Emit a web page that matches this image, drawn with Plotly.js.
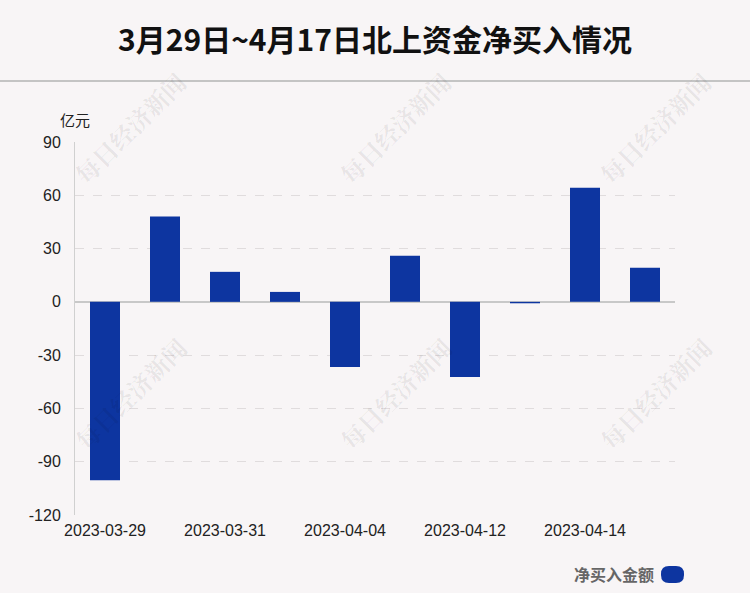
<!DOCTYPE html>
<html>
<head>
<meta charset="utf-8">
<script src="https://cdn.plot.ly/plotly-3.0.1.min.js"></script>
<style>html,body{margin:0;padding:0;background:#f8f5f6;}</style>
</head>
<body>
<div id="chart" style="width:750px;height:593px;"></div>
<script>
const titleText = "3月29日~4月17日北上资金净买入情况";
const categories = ["2023-03-29","2023-03-30","2023-03-31","2023-04-03","2023-04-04","2023-04-06","2023-04-12","2023-04-13","2023-04-14","2023-04-17"];
const netBuy = [-100.4, 48.0, 16.9, 5.6, -36.7, 25.9, -42.3, -0.8, 64.3, 19.2];
const tickLabels = ["2023-03-29","2023-03-31","2023-04-04","2023-04-12","2023-04-14"];
const yTicks = [90, 60, 30, 0, -30, -60, -90, -120];
const seriesName = "净买入金额";
const unitLabel = "亿元";
const watermark = "每日经济新闻";

const CJK = '"Noto Sans CJK SC", "Liberation Sans", Arial, sans-serif';
const LAT = '"Liberation Sans", Arial, sans-serif';

const trace = {
  type: 'bar',
  x: categories,
  y: netBuy,
  name: seriesName,
  width: 0.5,
  marker: {color: '#0d35a0'},
  hoverinfo: 'x+y'
};

const plotL = 75, plotR = 675, plotT = 142, plotB = 515;
const px = x => (x - plotL) / (plotR - plotL);
const py = y => (plotB - y) / (plotB - plotT);
const wmPos = [[130,128],[395,128],[655,128],[130,393],[395,393],[655,393]];
const annotations = wmPos.map(p => ({
  xref: 'paper', yref: 'paper', x: px(p[0]), y: py(p[1]),
  text: '<b>' + watermark + '</b>', showarrow: false, textangle: -45,
  font: {family: '"Noto Serif CJK SC", "Noto Sans CJK SC", serif', size: 24, color: 'rgba(0,0,0,0.075)'},
  xanchor: 'center', yanchor: 'middle'
}));
annotations.push({
  xref: 'paper', yref: 'paper', x: px(75), y: py(120),
  text: unitLabel, showarrow: false, xanchor: 'center', yanchor: 'middle',
  font: {family: CJK, size: 15, color: '#222'}
});
annotations.push({
  xref: 'paper', yref: 'paper', x: px(656), y: py(574),
  text: '<b>' + seriesName + '</b>', showarrow: false, xanchor: 'right', yanchor: 'middle',
  font: {family: CJK, size: 16, color: '#666'}
});

const lx0 = px(661), lx1 = px(684), ly0 = py(583), ly1 = py(566);
const rx = px(661+8) - lx0, ry = py(566) - py(574);
const swatchPath = `M ${lx0+rx},${ly1} L ${lx1-rx},${ly1} Q ${lx1},${ly1} ${lx1},${ly1-ry} L ${lx1},${ly0+ry} Q ${lx1},${ly0} ${lx1-rx},${ly0} L ${lx0+rx},${ly0} Q ${lx0},${ly0} ${lx0},${ly0+ry} L ${lx0},${ly1-ry} Q ${lx0},${ly1} ${lx0+rx},${ly1} Z`;

const shapes = [
  {type: 'line', xref: 'paper', yref: 'paper', x0: px(0), x1: px(750), y0: py(81), y1: py(81),
   line: {color: '#c4c4c4', width: 2}},
  {type: 'path', xref: 'paper', yref: 'paper', path: swatchPath,
   fillcolor: '#0d35a0', line: {width: 0}}
];

const layout = {
  width: 750, height: 593,
  paper_bgcolor: '#f8f5f6', plot_bgcolor: '#f8f5f6',
  margin: {l: plotL, r: 750 - plotR, t: plotT, b: 593 - plotB, pad: 0},
  showlegend: false,
  title: {
    text: '<b>' + titleText + '</b>',
    x: 0.5, xanchor: 'center', y: 1 - 40/593, yanchor: 'middle',
    font: {family: CJK, size: 30, color: '#111'}
  },
  xaxis: {
    type: 'category',
    categoryorder: 'array', categoryarray: categories,
    tickmode: 'array', tickvals: tickLabels, ticktext: tickLabels,
    showgrid: false, zeroline: false, showline: false,
    ticks: '', tickfont: {family: LAT, size: 16, color: '#222'},
    ticklabelstandoff: 4,
    range: [-0.5, categories.length - 0.5]
  },
  yaxis: {
    range: [-120, 90],
    tickmode: 'array', tickvals: yTicks, ticktext: yTicks.map(String),
    showgrid: true, gridcolor: '#e0dcdd', griddash: 'dash', gridwidth: 1,
    zeroline: true, zerolinecolor: '#c8c8c8', zerolinewidth: 2,
    showline: true, linecolor: '#d0d0d0', linewidth: 1,
    ticks: '', tickfont: {family: LAT, size: 16, color: '#222'},
    ticklabelstandoff: 10
  },
  annotations: annotations,
  shapes: shapes,
  bargap: 0.5
};

Plotly.newPlot('chart', [trace], layout, {displayModeBar: false, staticPlot: true});
</script>
</body>
</html>
